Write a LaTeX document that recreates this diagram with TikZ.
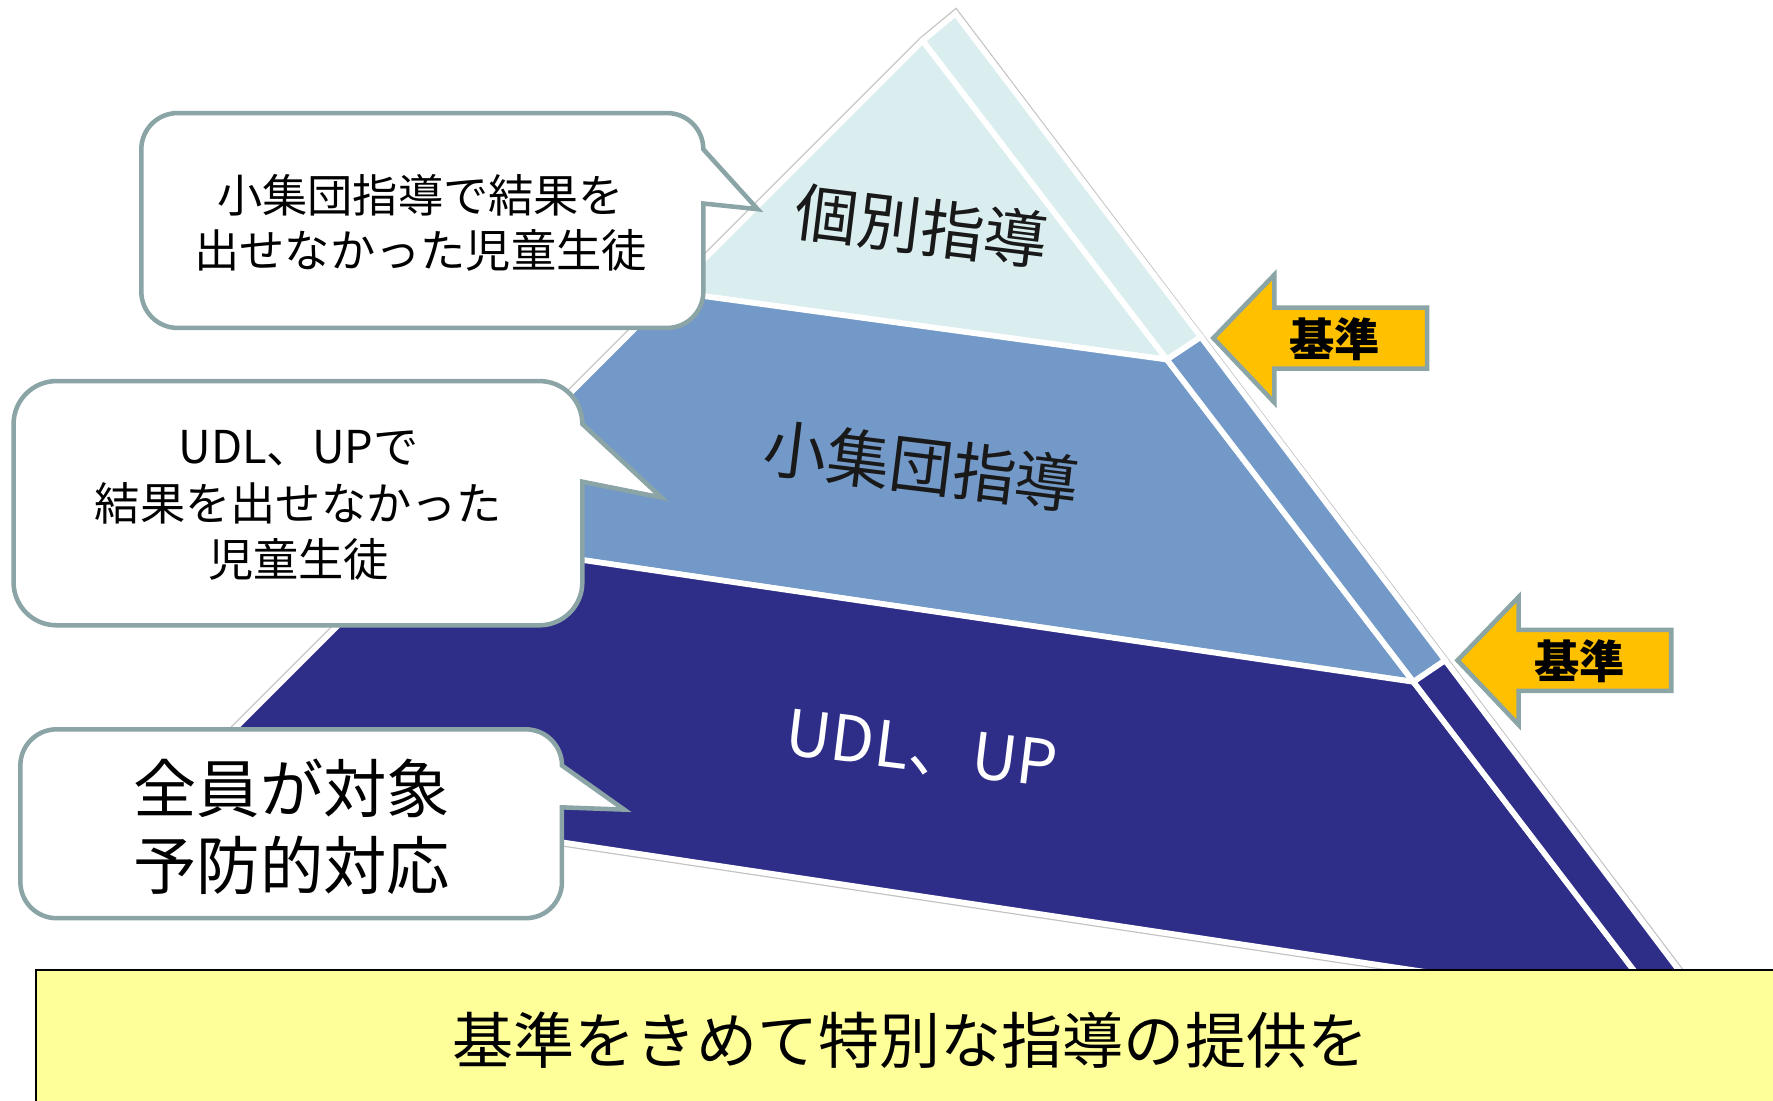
\documentclass[tikz,border=0pt]{standalone}
\usepackage{fontspec}
\setmainfont{Noto Sans CJK JP}
\definecolor{lcyan}{HTML}{DAEEF0}
\definecolor{mblue}{HTML}{7399C8}
\definecolor{navy}{HTML}{2E2D88}
\definecolor{outl}{HTML}{C4C4C4}
\definecolor{teal}{HTML}{8BA4A6}
\definecolor{arrowfill}{HTML}{FFC000}
\definecolor{boxfill}{HTML}{FFFF99}
\newcommand\mybubble[9]{%
  \draw[bubble] (#1+#5,#2) -- (#3-#5,#2) arc[start angle=90,end angle=0,radius=#5pt]
    -- (#3,#6) -- (#7,#8) -- (#3,#9) -- (#3,#4-#5) arc[start angle=0,end angle=-90,radius=#5pt]
    -- (#1+#5,#4) arc[start angle=-90,end angle=-180,radius=#5pt]
    -- (#1,#2+#5) arc[start angle=180,end angle=90,radius=#5pt] -- cycle;}
\newcommand\myarrow[2]{%
  \draw[blockarrow] (#1,#2) -- (#1+54,#2-56) -- (#1+54,#2-27) -- (#1+189,#2-27)
    -- (#1+189,#2+27) -- (#1+54,#2+27) -- (#1+54,#2+57) -- cycle;}
\begin{document}
\begin{tikzpicture}[x=1pt,y=-1pt,
  piece/.style={draw=white,line width=5pt,line join=miter},
  bubble/.style={draw=teal,fill=white,line width=4pt,line join=miter},
  blockarrow/.style={draw=teal,fill=arrowfill,line width=4pt,line join=miter},
  pyrlabel/.style={font=\fontsize{56}{60}\selectfont,rotate=-7,inner sep=0pt},
  bubtext/.style={align=center,inner sep=0pt},
]
\useasboundingbox (0,0) rectangle (1568,973);
% pyramid geometry
\coordinate (A) at (816,36);
\coordinate (B) at (845,12);
\coordinate (P1L) at (594,258);
\coordinate (P1R) at (1032,318);
\coordinate (P2L) at (377,475);
\coordinate (P2R) at (1250,603);
\coordinate (BL) at (158,694);
\coordinate (BR) at (1470,891);
\coordinate (S1) at (1062,298);
\coordinate (S2) at (1278,584);
\coordinate (S3) at (1496,873);
% outline
\draw[draw=outl,line width=7.5pt,line join=miter] (B) -- (A) -- (BL) -- (BR) -- (S3) -- cycle;
\draw[draw=white,line width=5pt,line join=miter] (B) -- (A) -- (BL) -- (BR) -- (S3) -- cycle;
% front face
\filldraw[piece,fill=lcyan] (A) -- (P1R) -- (P1L) -- cycle;
\filldraw[piece,fill=mblue] (P1L) -- (P1R) -- (P2R) -- (P2L) -- cycle;
\filldraw[piece,fill=navy] (P2L) -- (P2R) -- (BR) -- (BL) -- cycle;
% side face
\filldraw[piece,fill=lcyan] (A) -- (B) -- (S1) -- (P1R) -- cycle;
\filldraw[piece,fill=mblue] (P1R) -- (S1) -- (S2) -- (P2R) -- cycle;
\filldraw[piece,fill=navy] (P2R) -- (S2) -- (S3) -- (BR) -- cycle;
% layer labels
\node[pyrlabel,text=black!90] (l1) at (815,200) {個別指導};
\node[pyrlabel,text=black!90] (l2) at (815,412) {小集団指導};
\node[pyrlabel,text=white] (l3) at (815,663) {UDL、UP};
% callouts
\mybubble{125}{100}{622}{290}{32}{132}{670}{185}{180}
\node[bubtext,font=\fontsize{40}{49}\selectfont] (c1) at (372,197) {小集団指導で結果を\\出せなかった児童生徒};
\mybubble{12}{337}{515}{553}{38}{375}{585}{440}{426}
\node[bubtext,font=\fontsize{40}{50}\selectfont] (c2) at (264,447) {UDL、UPで\\結果を出せなかった\\児童生徒};
\mybubble{18}{645}{497}{812}{32}{677}{552}{716}{714}
\node[bubtext,font=\fontsize{56}{68}\selectfont] (c3) at (258,731) {全員が対象\\予防的対応};
% arrows
\myarrow{1073}{299}
\node[inner sep=0pt,font=\fontsize{40}{44}\selectfont\bfseries] (a1) at (1180,300) {基準};
\myarrow{1289}{584}
\node[inner sep=0pt,font=\fontsize{40}{44}\selectfont\bfseries] (a2) at (1397,585) {基準};
% bottom box
\draw[fill=boxfill,draw=black,line width=2pt] (32,858) rectangle (1600,1010);
\node[inner sep=0pt,font=\fontsize{54}{58}\selectfont] (bt) at (805,920) {基準をきめて特別な指導の提供を};
\end{tikzpicture}
\end{document}
